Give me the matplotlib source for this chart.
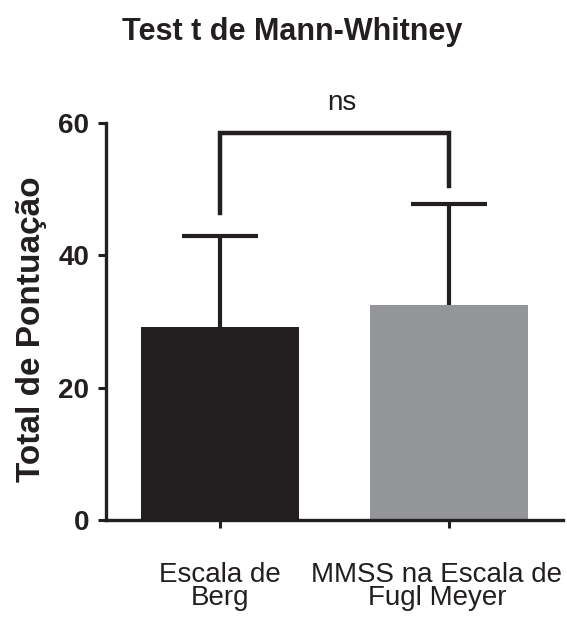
import numpy as np
import matplotlib
matplotlib.use("Agg")
import matplotlib.pyplot as plt
import matplotlib.transforms as mtransforms

plt.rcParams['font.family'] = ['Liberation Sans', 'DejaVu Sans']

groups = ['Escala de\nBerg', 'MMSS na Escala de\nFugl Meyer']
means = [29.1, 32.5]
sd_upper = [13.8, 15.2]
bar_colors = ['#231f20', '#939598']
ink = '#231f20'

fig = plt.figure(figsize=(5.67, 6.17), dpi=100)
ax = fig.add_axes([0.187, 0.157, 0.806, 0.644])

x = np.arange(len(groups))
tops = np.array(means) + np.array(sd_upper)
# one-sided (upper) SD whiskers, drawn behind the bars
ax.vlines(x, means, tops, color=ink, lw=3, zorder=1)
ax.hlines(tops, x - 0.167, x + 0.167, color=ink, lw=3, zorder=1)
ax.bar(x, means, width=0.69, color=bar_colors, zorder=2)

# significance bracket
y_top = 58.5
ax.plot([0, 0, 1, 1], [46.4, y_top, y_top, 50.4], color=ink, lw=3.2,
        solid_joinstyle='miter', clip_on=False)
ax.text(0.53, 63.0, 'ns', ha='center', va='center', fontsize=20, color=ink)

ax.set_xlim(-0.5, 1.5)
ax.set_ylim(0, 60)
ax.set_yticks([0, 20, 40, 60])
ax.set_xticks(x)
ax.set_xticklabels(groups, fontsize=20, color=ink, linespacing=0.88)
ax.tick_params(axis='y', labelsize=20, width=2.2, length=6, colors=ink, pad=6)
ax.tick_params(axis='x', width=2.2, length=6, colors=ink, pad=24)
for lab in ax.get_yticklabels():
    lab.set_fontweight('bold')
# long second label sits a little left so it stays inside the figure
lab2 = ax.get_xticklabels()[1]
lab2.set_transform(lab2.get_transform() +
                   mtransforms.ScaledTranslation(-0.12, 0, fig.dpi_scale_trans))
for side in ['top', 'right']:
    ax.spines[side].set_visible(False)
for side in ['left', 'bottom']:
    ax.spines[side].set_linewidth(2.4)
    ax.spines[side].set_color(ink)

ax.set_ylabel('Total de Pontuação', fontsize=24, fontweight='bold', color=ink)
ax.yaxis.set_label_coords(-0.129, 0.481)
fig.text(0.516, 0.948, 'Test t de Mann-Whitney', ha='center', va='center',
         fontsize=22, fontweight='bold', color=ink)

fig.savefig('out.png', dpi=100)
